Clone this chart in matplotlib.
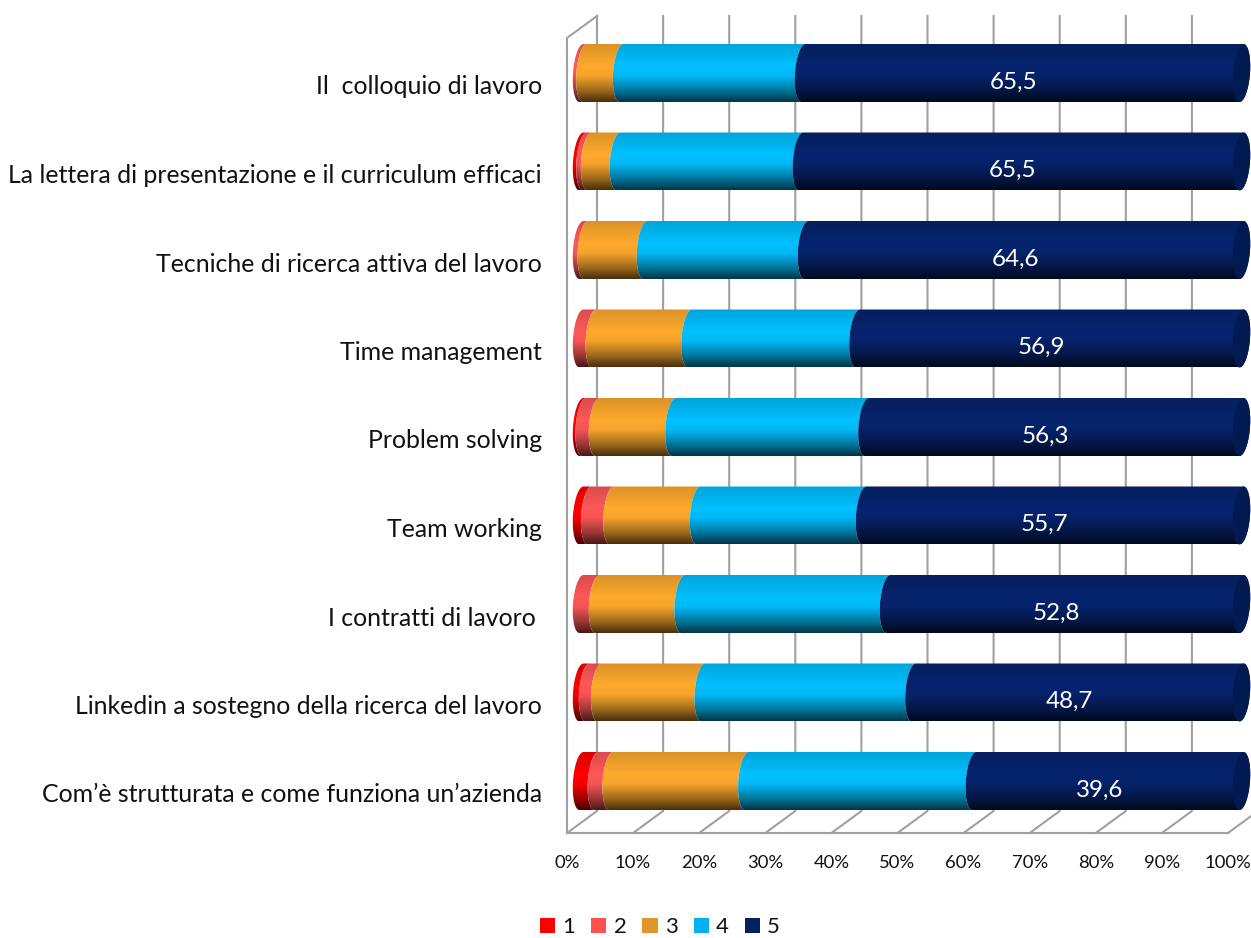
import numpy as np
import matplotlib
matplotlib.use('Agg')
import matplotlib.pyplot as plt
from matplotlib.patches import Polygon, Patch
from matplotlib.transforms import ScaledTranslation

plt.rcParams['font.family'] = ['Lato', 'DejaVu Sans']

# Dati
categorie = ['Il  colloquio di lavoro',
             'La lettera di presentazione e il curriculum efficaci',
             'Tecniche di ricerca attiva del lavoro',
             'Time management',
             'Problem solving',
             'Team working',
             'I contratti di lavoro ',
             'Linkedin a sostegno della ricerca del lavoro',
             'Com’è strutturata e come funziona un’azienda']
voto_1 = [0.0, 0.5, 0.0, 0.0, 0.4, 1.2, 0.0, 0.9, 2.2]
voto_2 = [0.5, 0.7, 0.7, 1.9, 2.0, 3.3, 2.4, 1.8, 2.2]
voto_3 = [5.5, 4.3, 8.8, 14.2, 11.5, 12.8, 12.8, 15.4, 20.1]
voto_4 = [27.2, 27.2, 23.9, 24.9, 29.0, 24.5, 30.7, 31.3, 33.7]
voto_5 = [65.5, 65.5, 64.6, 56.9, 56.3, 55.7, 52.8, 48.7, 39.6]
serie = ['1', '2', '3', '4', '5']
tick_perc = [0, 10, 20, 30, 40, 50, 60, 70, 80, 90, 100]

# Colori: legenda e centro luminoso dei cilindri
col_legenda = ['#ff0000', '#ff5050', '#e0962a', '#00b0f0', '#002060']
col_cilindro = [(255, 0, 0), (255, 88, 88), (255, 170, 45), (0, 192, 255), (6, 36, 110)]
col_tappo = '#021a52'

W, H = 1251, 938
fig = plt.figure(figsize=(W / 100, H / 100), dpi=100)
pos = [567 / W, 1 - 833 / H, 661 / W, (833 - 16) / H]

# Assi del "pavimento" e delle pareti (scala 0-100 sul piano frontale)
ax = fig.add_axes(pos)
passo_y = 88.5
y_fronte = (833 - 73) / passo_y
y_cima = (16 - 73) / passo_y
prof_x = 30 / 6.61
prof_y = 22 / passo_y
ax.set_xlim(0, 100)
ax.set_ylim(y_fronte, y_cima)
for s in ax.spines.values():
    s.set_visible(False)

grigio = '#a0a0a0'
for t in tick_perc:
    ax.plot([t, t + prof_x, t + prof_x], [y_fronte, y_fronte - prof_y, y_cima],
            color=grigio, lw=1.5, clip_on=False, zorder=1)
ax.plot([100, 0, 0, prof_x], [y_fronte, y_fronte, y_cima + prof_y, y_cima],
        color=grigio, lw=1.5, clip_on=False, zorder=1)

ax.set_xticks(tick_perc)
ax.set_xticklabels([f'{t}%' for t in tick_perc], fontsize=13.3, color='#111111')
ax.set_yticks(range(len(categorie)))
ax.set_yticklabels(categorie, fontsize=17.9, color='#111111')
ax.tick_params(axis='both', length=0)
ax.tick_params(axis='x', pad=16)
ax.tick_params(axis='y', pad=18)
# le etichette stanno un po' sotto il centro del cilindro
giu = ScaledTranslation(0, -12 / 100, fig.dpi_scale_trans)
for lab in ax.get_yticklabels():
    lab.set_transform(lab.get_transform() + giu)

# Assi dei cilindri, 100% in pila (6.6 px per punto), fino al bordo destro
k = 6.6
xb0 = (567 - 573) / k
pos2 = [567 / W, pos[1], (W - 567) / W, pos[3]]
ax2 = fig.add_axes(pos2)
ax2.patch.set_alpha(0)
ax2.axis('off')

A = 8.5 / k
B = 2.0 / k
meta = 29 / passo_y
t_arco = np.linspace(-np.pi / 2, np.pi / 2, 60)

# Sfumatura verticale del cilindro
stop = [0.0, 0.12, 0.38, 0.55, 0.8, 1.0]
fatt = [0.86, 0.90, 1.0, 0.96, 0.62, 0.28]
grad_t = np.linspace(0, 1, 120)
grad_f = np.interp(grad_t, stop, fatt)


def arco(v, yc, destra=False):
    s = np.sin(t_arco)
    c = np.cos(t_arco)
    dx = A * (1 + c) if destra else A * (1 - c)
    return v + dx - B * s, yc + meta * s


def segmento(v0, v1, yc, colore, ultimo=False):
    x0, y0 = arco(v0, yc)
    x1, y1 = arco(v1, yc, destra=ultimo)
    pts = np.column_stack([np.r_[x0, x1[::-1]], np.r_[y0, y1[::-1]]])
    poly = Polygon(pts, closed=True, fc='none', ec='none', transform=ax2.transData)
    ax2.add_patch(poly)
    img = (np.array(colore)[None, None, :] * grad_f[:, None, None] / 255).clip(0, 1)
    im = ax2.imshow(img, extent=[v0 - 1, v1 + 4 * A + 1, yc + meta, yc - meta],
                    aspect='auto', interpolation='bilinear', zorder=3)
    im.set_clip_path(poly)


tabella = np.array([voto_1, voto_2, voto_3, voto_4, voto_5])
for i in range(len(categorie)):
    quote = tabella[:, i] / tabella[:, i].sum() * 100  # pila normalizzata al 100%
    base = 0.0
    for j in range(len(serie)):
        val = quote[j]
        if val > 0:
            segmento(base, base + val, i, col_cilindro[j], ultimo=(j == 4))
        base += val
    # tappo destro, piu scuro
    x0, y0 = arco(base, i)
    x1, y1 = arco(base, i, destra=True)
    ax2.fill(np.r_[x0, x1[::-1]], np.r_[y0, y1[::-1]], color=col_tappo, lw=0, zorder=4)
    ax2.annotate(f'{voto_5[i]:.1f}'.replace('.', ','), (base - quote[4] / 2, i),
                 xytext=(0, -6.5), textcoords='offset points', color='white',
                 fontsize=17.4, ha='center', va='center', zorder=5)

ax2.set_xlim(xb0, xb0 + (W - 567) / k)
ax2.set_ylim(y_fronte, y_cima)

handles = [Patch(fc=c, ec='none') for c in col_legenda]
fig.legend(handles, serie, loc='center', bbox_to_anchor=(660 / W, 1 - 927 / H), ncol=5,
           frameon=False, fontsize=16, handlelength=0.68, handleheight=0.68,
           handletextpad=0.32, columnspacing=0.72, labelcolor='#111111',
           borderpad=0, borderaxespad=0)

fig.savefig('out.png', dpi=100)
